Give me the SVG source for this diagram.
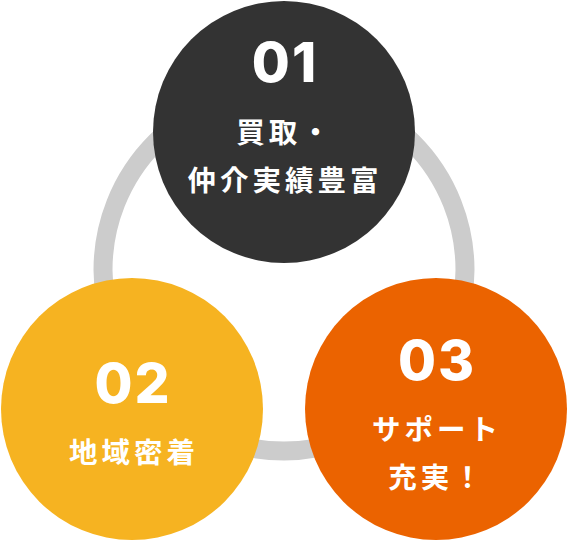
<svg xmlns="http://www.w3.org/2000/svg" width="568" height="541" viewBox="0 0 568 541">
<style>
.num{font-family:Inter,"Open Sans","Noto Sans",sans-serif;font-weight:800;font-size:55px;fill:#fff;text-anchor:middle;letter-spacing:2px}
.jp{font-family:"Noto Sans CJK JP","Noto Sans",sans-serif;font-weight:700;font-size:28.5px;fill:#fff;text-anchor:middle;letter-spacing:4px}
</style>
<g id="connectors">
<circle cx="284" cy="270" r="181" fill="none" stroke="#cccccc" stroke-width="19"/>
</g>
<g id="node1">
<circle cx="284" cy="132" r="131" fill="#333333"/>
<text class="num" x="285" y="82">01</text>
<text class="jp" x="285" y="143">買取・</text>
<text class="jp" x="285" y="191">仲介実績豊富</text>
</g>
<g id="node2">
<circle cx="132" cy="409" r="131" fill="#f6b321"/>
<text class="num" x="133" y="403">02</text>
<text class="jp" x="134" y="463">地域密着</text>
</g>
<g id="node3">
<circle cx="436" cy="409" r="131" fill="#eb6300"/>
<text class="num" x="437" y="380">03</text>
<text class="jp" x="437" y="440">サポート</text>
<text class="jp" x="437" y="488">充実！</text>
</g>
</svg>
